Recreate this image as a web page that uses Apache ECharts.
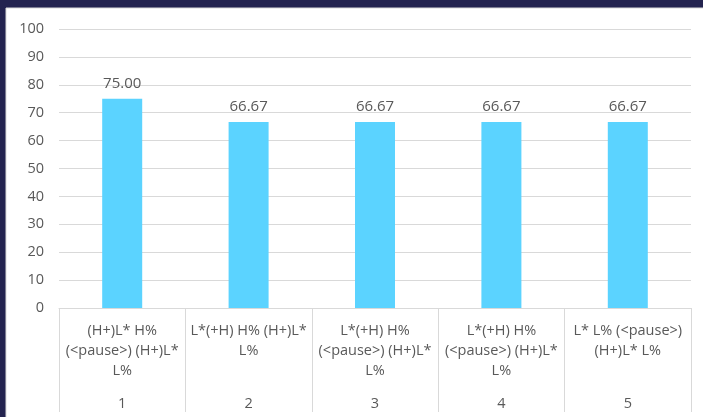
<!DOCTYPE html>
<html>
<head>
<meta charset="utf-8">
<script src="https://cdn.jsdelivr.net/npm/echarts@6/dist/echarts.min.js"></script>
<style>
  html, body { margin: 0; padding: 0; background: #23234f; }
  #chart { width: 703px; height: 417px; }
</style>
</head>
<body>
<div id="chart"></div>
<script>
// Tone-pattern categories (inner level) and their index (outer level)
const patternLabels = [
  '(H+)L* H%\n(<pause>) (H+)L*\nL%',
  'L*(+H) H% (H+)L*\nL%',
  'L*(+H) H%\n(<pause>) (H+)L*\nL%',
  'L*(+H) H%\n(<pause>) (H+)L*\nL%',
  'L* L% (<pause>)\n(H+)L* L%'
];
const groupLabels = ['1', '2', '3', '4', '5'];
const percentValues = [75.00, 66.67, 66.67, 66.67, 66.67];
const yTicks = { min: 0, max: 100, interval: 10 };

const FONT = 'Open Sans';
const TEXT = '#595959';
const LINE = '#d9d9d9';

const chart = echarts.init(document.getElementById('chart'), null, { renderer: 'canvas' });

chart.setOption({
  backgroundColor: '#23234f',
  animation: false,
  graphic: [{
    type: 'rect',
    shape: { x: 6, y: 8, width: 720, height: 420 },
    style: { fill: '#ffffff', stroke: '#d9d9d9', lineWidth: 1 },
    z: -10
  }],
  grid: { left: 59, right: 12, top: 29, bottom: 109, containLabel: false },
  xAxis: [{
    type: 'category',
    data: patternLabels,
    position: 'bottom',
    axisLine: { lineStyle: { color: LINE, width: 1 } },
    axisTick: { show: true, length: 104, lineStyle: { color: LINE } },
    axisLabel: {
      interval: 0,
      margin: 13,
      color: TEXT,
      fontFamily: FONT,
      fontSize: 14.5,
      lineHeight: 20
    }
  }, {
    type: 'category',
    data: groupLabels,
    position: 'bottom',
    axisLine: { show: false },
    axisTick: { show: false },
    axisLabel: {
      interval: 0,
      margin: 88,
      color: TEXT,
      fontFamily: FONT,
      fontSize: 14.5
    }
  }],
  yAxis: {
    type: 'value',
    min: yTicks.min,
    max: yTicks.max,
    interval: yTicks.interval,
    axisLine: { show: false },
    axisTick: { show: false },
    splitLine: { lineStyle: { color: LINE } },
    axisLabel: { color: TEXT, fontFamily: FONT, fontSize: 14.5, margin: 15 }
  },
  series: [{
    type: 'bar',
    data: percentValues,
    xAxisIndex: 0,
    barWidth: 40,
    itemStyle: { color: '#5bd3ff' },
    label: {
      show: true,
      position: 'top',
      distance: 8,
      color: TEXT,
      fontFamily: FONT,
      fontSize: 15,
      formatter: p => p.value.toFixed(2)
    }
  }]
});
</script>
</body>
</html>
